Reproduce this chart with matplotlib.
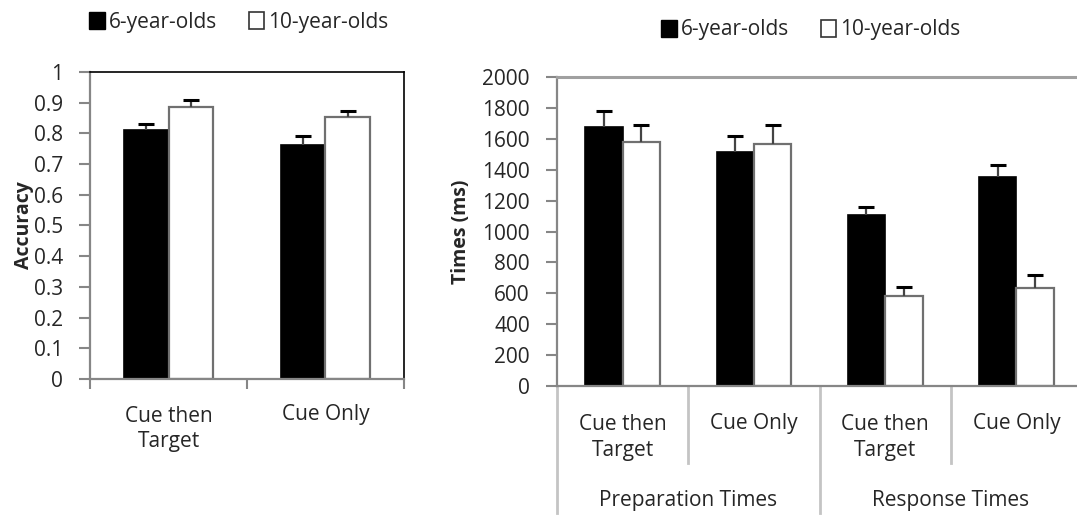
import numpy as np
import matplotlib
matplotlib.use("Agg")
import matplotlib.pyplot as plt
from matplotlib.patches import Patch

plt.rcParams['font.family'] = ['Open Sans', 'DejaVu Sans']

groups = ["6-year-olds", "10-year-olds"]

# left panel: accuracy
acc_cats = ["Cue then\nTarget", "Cue Only"]
acc_6 = [0.811, 0.762]
acc_6_err = [0.021, 0.029]
acc_10 = [0.886, 0.852]
acc_10_err = [0.022, 0.021]

# right panel: times (ms)
time_cats = ["Cue then\nTarget", "Cue Only", "Cue then\nTarget", "Cue Only"]
time_groups = ["Preparation Times", "Response Times"]
time_6 = [1678, 1515, 1105, 1351]
time_6_err = [104, 103, 52, 77]
time_10 = [1581, 1566, 583, 636]
time_10_err = [106, 121, 56, 82]

GRAY = "#868686"
TXT = "#262626"
FS = 15

fig = plt.figure(figsize=(10.77, 5.16), dpi=100)
ax1 = fig.add_axes([0.0836, 0.2655, 0.2915, 0.595])
ax2 = fig.add_axes([0.5172, 0.2519, 0.4875, 0.5988])

w = 0.285


def err_up(ax, x, v, e):
    # Excel style "plus" error bars: stem from bar top and a single cap
    top = np.array(v) + np.array(e)
    ax.vlines(x, v, top, color="#444444", lw=1.6, zorder=3)
    ax.plot(x, top, ls="none", marker="_", ms=12, mew=2.2, color="black", zorder=3)


def draw_bars(ax, v6, e6, v10, e10):
    x = np.arange(len(v6))
    ax.bar(x - w / 2, v6, w, color="black", edgecolor="black", lw=1.2, zorder=2)
    ax.bar(x + w / 2, v10, w, color="white", edgecolor="#707070", lw=1.6, zorder=2)
    err_up(ax, x - w / 2, v6, e6)
    err_up(ax, x + w / 2, v10, e10)
    ax.set_xlim(-0.5, len(v6) - 0.5)
    ax.tick_params(axis="y", direction="out", length=8, width=1.5, color=GRAY,
                   labelsize=FS, labelcolor=TXT, pad=11.5)
    for s in ax.spines.values():
        s.set_color(GRAY)
        s.set_linewidth(1.6)


# ---- left
draw_bars(ax1, acc_6, acc_6_err, acc_10, acc_10_err)
ax1.set_ylim(0, 1)
ax1.set_yticks(np.arange(0, 1.01, 0.1))
ax1.set_yticklabels(["0"] + ["%.1f" % v for v in np.arange(0.1, 0.95, 0.1)] + ["1"])
ax1.set_xticks([-0.5, 0.5, 1.5])
ax1.set_xticklabels([])
ax1.tick_params(axis="x", direction="out", length=7, width=1.5, color=GRAY)
ax1.spines["top"].set_color("black")
ax1.spines["right"].set_color("black")
ax1.spines["top"].set_linewidth(1.2)
ax1.spines["right"].set_linewidth(1.2)
ax1.set_ylabel("Accuracy", fontsize=14, fontweight="bold", color=TXT)
ax1.yaxis.set_label_coords(-0.18, 0.5)
tr1 = ax1.get_xaxis_transform()
for i, c in enumerate(acc_cats):
    ax1.text(i, -0.117 if "\n" not in c else -0.163, c, transform=tr1, ha="center",
             va="center", fontsize=FS, color=TXT, linespacing=1.3)

# ---- right
draw_bars(ax2, time_6, time_6_err, time_10, time_10_err)
ax2.set_ylim(0, 2000)
ax2.set_yticks(np.arange(0, 2001, 200))
ax2.set_xticks([])
ax2.spines["right"].set_visible(False)
ax2.spines["top"].set_color("#a0a0a0")
ax2.spines["top"].set_linewidth(2.2)
ax2.set_ylabel("Times (ms)", fontsize=14, fontweight="bold", color=TXT)
ax2.yaxis.set_label_coords(-0.164, 0.5)
tr2 = ax2.get_xaxis_transform()
for i, c in enumerate(time_cats):
    ax2.text(i, -0.12 if "\n" not in c else -0.167, c, transform=tr2, ha="center",
             va="center", fontsize=FS, color=TXT, linespacing=1.3)
for j, g in enumerate(time_groups):
    ax2.text(2 * j + 0.5, -0.369, g, transform=tr2, ha="center", va="center",
             fontsize=FS, color=TXT)
SEP = "#c4c4c4"
for xs in [0.5, 2.5]:
    ax2.plot([xs, xs], [0, -0.249], transform=tr2, color=SEP, lw=2, clip_on=False)
for xs in [-0.5, 1.5, 3.5]:
    ax2.plot([xs, xs], [0, -0.411], transform=tr2, color=SEP, lw=2, clip_on=False)

# legends
handles = [Patch(facecolor="black", edgecolor="black"),
           Patch(facecolor="white", edgecolor="#333333", lw=1.2)]
for (cx, cy) in [(0.222, 0.957), (0.753, 0.942)]:
    fig.legend(handles, groups, loc="center", bbox_to_anchor=(cx, cy), ncol=2,
               frameon=False, fontsize=15, handlelength=0.75, handleheight=0.85,
               handletextpad=0.2, columnspacing=1.5, labelcolor=TXT)

fig.savefig("out.png", dpi=100)
